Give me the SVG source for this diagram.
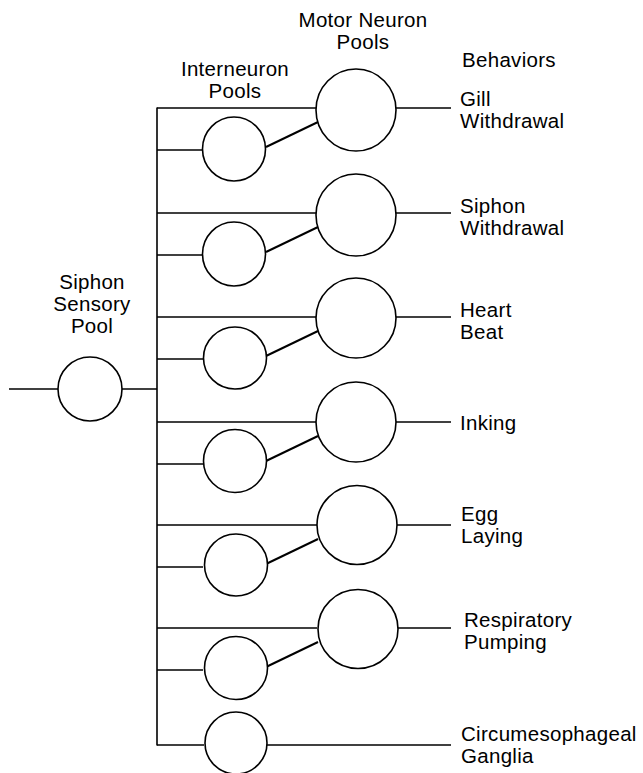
<svg xmlns="http://www.w3.org/2000/svg" width="643" height="773" viewBox="0 0 643 773">
<style>
.n{fill:#fff;stroke:#000;stroke-width:1.6}
.c line{stroke:#000;stroke-width:1.6}
.c .d{stroke-width:2}
text{font-family:"Liberation Sans",Arial,sans-serif;font-size:20.5px;letter-spacing:0.3px;fill:#000}
.m{text-anchor:middle}
</style>
<rect width="643" height="773" fill="#fff"/>
<g id="connectors" class="c">
<line x1="157" y1="107.5" x2="157" y2="745.5"/>
<line x1="9" y1="389" x2="58" y2="389"/>
<line x1="122" y1="389" x2="157" y2="389"/>
<line x1="157" y1="108" x2="317" y2="108"/><line x1="157" y1="150" x2="203" y2="150"/><line class="d" x1="266" y1="147" x2="318" y2="122"/><line x1="396" y1="108" x2="451" y2="108"/>
<line x1="157" y1="213" x2="317" y2="213"/><line x1="157" y1="255" x2="203" y2="255"/><line class="d" x1="266" y1="252" x2="318" y2="227"/><line x1="396" y1="213" x2="451" y2="213"/>
<line x1="157" y1="317" x2="317" y2="317"/><line x1="157" y1="359" x2="203" y2="359"/><line class="d" x1="266" y1="356" x2="318" y2="331"/><line x1="396" y1="317" x2="451" y2="317"/>
<line x1="157" y1="422" x2="317" y2="422"/><line x1="157" y1="464" x2="203" y2="464"/><line class="d" x1="266" y1="461" x2="318" y2="436"/><line x1="396" y1="422" x2="451" y2="422"/>
<line x1="157" y1="525" x2="317" y2="525"/><line x1="157" y1="567" x2="203" y2="567"/><line class="d" x1="266" y1="564" x2="318" y2="539"/><line x1="396" y1="525" x2="451" y2="525"/>
<line x1="157" y1="628" x2="317" y2="628"/><line x1="157" y1="670" x2="203" y2="670"/><line class="d" x1="266" y1="667" x2="318" y2="642"/><line x1="396" y1="628" x2="451" y2="628"/>
<line x1="157" y1="745" x2="204" y2="745"/><line x1="266" y1="745" x2="451" y2="745"/>
</g>
<g id="sensory"><ellipse class="n" cx="90" cy="389" rx="32" ry="32"/><text class="m" x="92" y="289">Siphon</text><text class="m" x="92" y="311">Sensory</text><text class="m" x="92" y="333">Pool</text></g>
<g id="headers"><text class="m" x="363" y="27">Motor Neuron</text><text class="m" x="363" y="49">Pools</text><text class="m" x="235" y="76">Interneuron</text><text class="m" x="235" y="98">Pools</text><text x="462" y="67">Behaviors</text></g>
<g id="g1"><ellipse class="n" cx="356" cy="110" rx="40" ry="41"/><ellipse class="n" cx="234" cy="149" rx="31.5" ry="32"/><text x="460" y="106">Gill</text><text x="460" y="128">Withdrawal</text></g>
<g id="g2"><ellipse class="n" cx="356" cy="215" rx="40" ry="41"/><ellipse class="n" cx="234" cy="254" rx="31.5" ry="32"/><text x="460" y="213">Siphon</text><text x="460" y="235">Withdrawal</text></g>
<g id="g3"><ellipse class="n" cx="356" cy="318" rx="40" ry="40"/><ellipse class="n" cx="235" cy="358" rx="31.5" ry="31"/><text x="460" y="317">Heart</text><text x="460" y="339">Beat</text></g>
<g id="g4"><ellipse class="n" cx="356" cy="422" rx="40" ry="40"/><ellipse class="n" cx="235" cy="461" rx="31.5" ry="31.5"/><text x="460" y="430">Inking</text></g>
<g id="g5"><ellipse class="n" cx="357" cy="525" rx="40" ry="39.5"/><ellipse class="n" cx="236" cy="565" rx="31.5" ry="31"/><text x="461" y="521">Egg</text><text x="461" y="543">Laying</text></g>
<g id="g6"><ellipse class="n" cx="358" cy="629" rx="40" ry="39.5"/><ellipse class="n" cx="236" cy="668" rx="31.5" ry="31.5"/><text x="464" y="627">Respiratory</text><text x="464" y="649">Pumping</text></g>
<g id="g7"><ellipse class="n" cx="236" cy="743" rx="31" ry="31"/><text x="461" y="741">Circumesophageal</text><text x="461" y="763">Ganglia</text></g>
</svg>
